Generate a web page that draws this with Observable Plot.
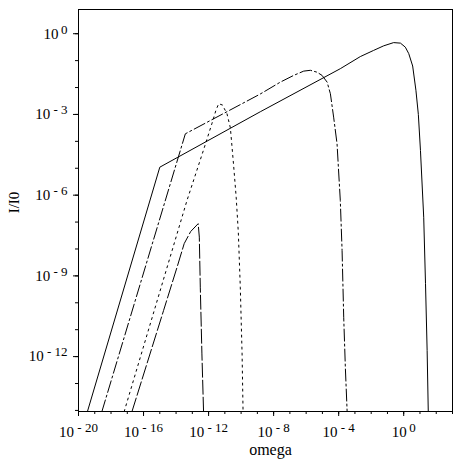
<!DOCTYPE html>
<html><head><meta charset="utf-8">
<script src="https://cdn.jsdelivr.net/npm/d3@7"></script>
<script src="https://cdn.jsdelivr.net/npm/@observablehq/plot@0.6"></script>
<style>body{margin:0;background:#fff;}</style>
</head><body><div id="chart"></div>
<script>
// Values, as base-10 exponents: omega = 10^x, I/I0 = 10^y
const solidLogOmega = [-19.45, -15.0, -8.82, -3.9, -2.67, -1.85, -1.23, -0.62, -0.2, 0.10, 0.31, 0.55, 0.75, 0.9, 1.03, 1.23, 1.34, 1.44, 1.51];
const solidLogI     = [-14.04, -4.96, -2.9, -1.3, -0.85, -0.62, -0.45, -0.33, -0.35, -0.50, -0.74, -1.2, -2.1, -3.0, -4.34, -6.82, -9.29, -11.77, -14.04];

const dashDotLogOmega = [-18.56, -13.43, -8.82, -7.59, -6.77, -6.15, -5.74, -5.33, -5.02, -4.71, -4.51, -4.31, -4.10, -3.90, -3.79, -3.69, -3.59, -3.48];
const dashDotLogI     = [-14.04, -3.72, -2.24, -1.80, -1.55, -1.39, -1.36, -1.43, -1.55, -1.80, -2.23, -3.10, -4.09, -6.2, -8.06, -10.54, -12.39, -14.04];

const dottedLogOmega = [-17.19, -13.33, -12.3, -11.8, -11.55, -11.38, -11.15, -10.87, -10.66, -10.46, -10.3, -10.17, -10.05, -9.94, -9.88];
const dottedLogI     = [-14.04, -6.2, -4.3, -3.35, -2.85, -2.6, -2.65, -2.97, -3.5, -4.9, -6.1, -7.4, -9.42, -11.9, -14.04];

const dashedLogOmega = [-16.71, -14.77, -13.94, -13.5, -13.1, -12.64, -12.57, -12.51, -12.41, -12.31];
const dashedLogI     = [-14.04, -10.29, -8.68, -7.8, -7.35, -7.06, -7.56, -9.42, -11.9, -14.04];

const xMinorExps = d3.range(-20, 4);
const xMajorExps = [-20, -16, -12, -8, -4, 0];
const yMinorExps = d3.range(-14, 1);
const yMajorExps = [0, -3, -6, -9, -12];
const xLabel = "omega";
const yLabel = "I/I0";

function series(xs, ys) { return xs.map((e, i) => ({omega: 10 ** e, I: 10 ** ys[i]})); }
const solid = series(solidLogOmega, solidLogI);
const dashDot = series(dashDotLogOmega, dashDotLogI);
const dotted = series(dottedLogOmega, dottedLogI);
const dashed = series(dashedLogOmega, dashedLogI);

const expOf = v => Math.round(Math.log10(v));
const fmt = v => { const e = expOf(v); return "10^" + (e < 0 ? "-" + (-e) : String(e)); };

const font = "'Liberation Serif', 'Times New Roman', serif";
const chart = Plot.plot({
  width: 459, height: 468,
  marginLeft: 78, marginRight: 7, marginTop: 9, marginBottom: 57,
  style: {fontFamily: font, fontSize: "15px", color: "#000", background: "#fff"},
  x: {type: "log", domain: [1e-20, 1e3]},
  y: {type: "log", domain: [10 ** -14.04, 10 ** 0.9]},
  marks: [
    Plot.axisX(xMinorExps.map(e => 10 ** e), {tickSize: 3, tickFormat: () => "", label: null, stroke: "#000"}),
    Plot.axisX(xMajorExps.map(e => 10 ** e), {tickSize: 5, tickPadding: 10, tickFormat: fmt, label: null, fontSize: 15, fill: "#000", stroke: "#000"}),
    Plot.axisY(yMinorExps.map(e => 10 ** e), {tickSize: 3, tickFormat: () => "", label: null, stroke: "#000"}),
    Plot.axisY(yMajorExps.map(e => 10 ** e), {tickSize: 5, tickPadding: 6, tickFormat: fmt, label: null, fontSize: 15, fill: "#000", stroke: "#000"}),
    Plot.frame({stroke: "#000", strokeWidth: 1}),
    Plot.line(solid, {x: "omega", y: "I", stroke: "#000", strokeWidth: 1, clip: true}),
    Plot.line(dashDot, {x: "omega", y: "I", stroke: "#000", strokeWidth: 1, strokeDasharray: "12,3,2,3", clip: true}),
    Plot.line(dotted, {x: "omega", y: "I", stroke: "#000", strokeWidth: 1, strokeDasharray: "2,4", clip: true}),
    Plot.line(dashed, {x: "omega", y: "I", stroke: "#000", strokeWidth: 1, strokeDasharray: "14,3", clip: true}),
    Plot.text([xLabel], {frameAnchor: "bottom", dx: 5, dy: 38, text: d => d, fontSize: 16, textAnchor: "middle", lineAnchor: "middle", fill: "#000"}),
    Plot.text([yLabel], {frameAnchor: "left", dx: -64, dy: -8, rotate: -90, text: d => d, fontSize: 15, textAnchor: "middle", lineAnchor: "middle", fill: "#000"})
  ]
});

// render exponents as raised text
const ns = "http://www.w3.org/2000/svg";
chart.querySelectorAll("text").forEach(t => {
  const s = t.textContent;
  const i = s.indexOf("^");
  if (i < 0) return;
  const base = s.slice(0, i), exp = s.slice(i + 1);
  t.textContent = "";
  const a = document.createElementNS(ns, "tspan");
  a.textContent = base;
  t.appendChild(a);
  const b = document.createElementNS(ns, "tspan");
  b.setAttribute("dy", "-5");
  b.setAttribute("font-size", "13");
  b.textContent = exp.startsWith("-") ? "\u00A0-\u00A0" + exp.slice(1) : "\u2009" + exp;
  t.appendChild(b);
});
document.getElementById("chart").appendChild(chart);
</script>
</body></html>
